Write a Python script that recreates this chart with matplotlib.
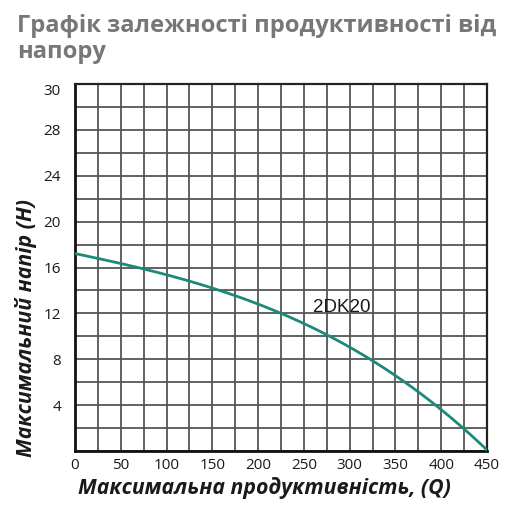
import matplotlib
matplotlib.use("Agg")
import matplotlib.pyplot as plt
import numpy as np

# data
flow_q = [0, 50, 100, 150, 200, 250, 300, 350, 400, 425, 450]
head_h = [17.2, 16.4, 15.3, 14.2, 12.9, 11.1, 9.0, 6.5, 3.7, 2.0, 0.0]
x_ticks = [0, 50, 100, 150, 200, 250, 300, 350, 400, 450]
y_ticks = [4, 8, 12, 16, 20, 24, 28, 32]
y_tick_labels = ["4", "8", "12", "16", "20", "24", "28", "30"]
series_name = "2DK20"
title = "Графік залежності продуктивності від\nнапору"
x_label = "Максимальна продуктивність, (Q)"
y_label = "Максимальний напір (H)"

plt.rcParams['font.family'] = ['Open Sans', 'DejaVu Sans']

fig = plt.figure(figsize=(5.11, 5.12), dpi=100)
ax = fig.add_axes([75/511, 1-451/512, (487-75)/511, (451-84)/512])

qq = np.linspace(flow_q[0], flow_q[-1], 300)
coef = np.polyfit(flow_q, head_h, 3)
hh = np.polyval(coef, qq)
hh[-1] = head_h[-1]
ax.plot(qq, hh, color="#1b8a7a", lw=2.0, solid_capstyle='round', zorder=3)

ax.set_xlim(0, 450)
ax.set_ylim(0, 32)
ax.set_xticks(np.arange(0, 451, 25))
ax.set_yticks(np.arange(0, 33, 2))
ax.grid(True, color="#555555", lw=1.3)
ax.set_axisbelow(True)
ax.tick_params(length=0, labelsize=11, colors="#1a1a1a", pad=5)
ax.tick_params(axis='y', pad=10)
ax.set_xticklabels([str(v) if v in x_ticks else "" for v in np.arange(0, 451, 25)])
ylab = []
for v in np.arange(0, 33, 2):
    if v in y_ticks:
        ylab.append(y_tick_labels[y_ticks.index(v)])
    else:
        ylab.append("")
ax.set_yticklabels(ylab)
for lbl in ax.get_yticklabels():
    if lbl.get_text() == "30":
        lbl.set_va("top")

for s in ["left", "bottom"]:
    ax.spines[s].set_linewidth(2.0)
    ax.spines[s].set_color("#111111")
for s in ["top", "right"]:
    ax.spines[s].set_linewidth(1.6)
    ax.spines[s].set_color("#222222")

ax.text(291, 12.5, series_name, fontsize=13.5, family=['Liberation Sans', 'DejaVu Sans'],
        color="#1a1a1a", ha="center", va="center", zorder=4)

ax.set_xlabel(x_label, fontsize=15.3, fontweight="bold", fontstyle="italic", color="#1a1a1a")
ax.set_ylabel(y_label, fontsize=15.3, fontweight="bold", fontstyle="italic", color="#1a1a1a")
ax.xaxis.set_label_coords(0.461, -0.072)
ax.yaxis.set_label_coords(-0.092, 0.335)

fig.text(17/511, 1-14/512, title, fontsize=17.1, fontweight="bold", color="#777777",
         ha="left", va="top", linespacing=1.12)

fig.savefig("out.png", dpi=100)
